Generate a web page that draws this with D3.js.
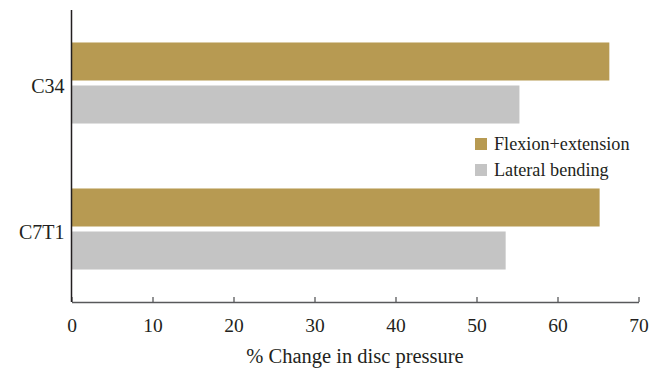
<!DOCTYPE html>
<html>
<head>
<meta charset="utf-8">
<script src="https://cdn.jsdelivr.net/npm/d3@7"></script>
<style>
  html, body { margin: 0; padding: 0; background: #fff; }
  svg { display: block; }
  text { font-family: "Liberation Serif", "DejaVu Serif", serif; fill: #231f20; }
</style>
</head>
<body>
<svg id="chart" width="661" height="373"></svg>
<script>
const categories = ["C34", "C7T1"];
const seriesNames = ["Flexion+extension", "Lateral bending"];
const flexionExtension = [66.4, 65.2];
const lateralBending = [55.3, 53.6];
const xTicks = [0, 10, 20, 30, 40, 50, 60, 70];
const colors = ["#b79a52", "#c4c4c4"];
const xTitle = "% Change in disc pressure";

const seriesValues = [flexionExtension, lateralBending];
const data = categories.map((c, i) => ({
  cat: c,
  vals: seriesNames.map((s, j) => ({ series: s, value: seriesValues[j][i], color: colors[j] }))
}));

const svg = d3.select("#chart");
const mLeft = 71.5, mRight = 638.5, mTop = 10, mBottom = 302;

const x = d3.scaleLinear().domain([0, 70]).range([mLeft, mRight]);
const y = d3.scaleBand().domain(categories).range([mTop, mBottom])
  .paddingInner(0.445).paddingOuter(0.2225);
const ySub = d3.scaleBand().domain(seriesNames).range([0, y.bandwidth()])
  .paddingInner(0.116).paddingOuter(0);

// bars
const groups = svg.append("g").selectAll("g").data(data).join("g")
  .attr("transform", d => `translate(0,${y(d.cat)})`);
groups.selectAll("rect").data(d => d.vals).join("rect")
  .attr("x", x(0))
  .attr("y", d => ySub(d.series))
  .attr("width", d => x(d.value) - x(0))
  .attr("height", ySub.bandwidth())
  .attr("fill", d => d.color);

// x axis
const xAxis = svg.append("g")
  .attr("transform", `translate(0,${mBottom})`)
  .call(d3.axisBottom(x).tickValues(xTicks).tickSizeInner(-5).tickSizeOuter(0).tickFormat(d3.format("d")));
xAxis.select(".domain").attr("stroke", "#58595b").attr("stroke-width", 1.3);
xAxis.selectAll(".tick line").attr("stroke", "#58595b").attr("stroke-width", 1.3);
xAxis.selectAll(".tick text")
  .attr("y", 30).attr("dy", 0)
  .style("font-family", "'Liberation Serif', serif")
  .style("font-size", "19.5px").attr("fill", "#231f20");

// y axis
const yAxis = svg.append("g")
  .attr("transform", `translate(${mLeft},0)`)
  .call(d3.axisLeft(y).tickSize(0).tickPadding(7));
yAxis.select(".domain").remove();
yAxis.append("line").attr("x1", 0).attr("x2", 0).attr("y1", mTop).attr("y2", mBottom)
  .attr("stroke", "#231f20").attr("stroke-width", 1.5);
yAxis.selectAll(".tick text")
  .attr("dy", "0.5em")
  .style("font-family", "'Liberation Serif', serif")
  .style("font-size", "20px").attr("fill", "#231f20");

// x title
svg.append("text")
  .attr("x", 355)
  .attr("y", 363)
  .attr("text-anchor", "middle")
  .style("font-size", "20.5px")
  .text(xTitle);

// legend
const legend = svg.append("g").attr("transform", "translate(475,138)");
const li = legend.selectAll("g").data(seriesNames).join("g")
  .attr("transform", (d, i) => `translate(0,${i * 26})`);
li.append("rect").attr("width", 12).attr("height", 12)
  .attr("fill", (d, i) => colors[i]);
li.append("text").attr("x", 19).attr("y", 12)
  .style("font-size", "18.2px")
  .text(d => d);
</script>
</body>
</html>
